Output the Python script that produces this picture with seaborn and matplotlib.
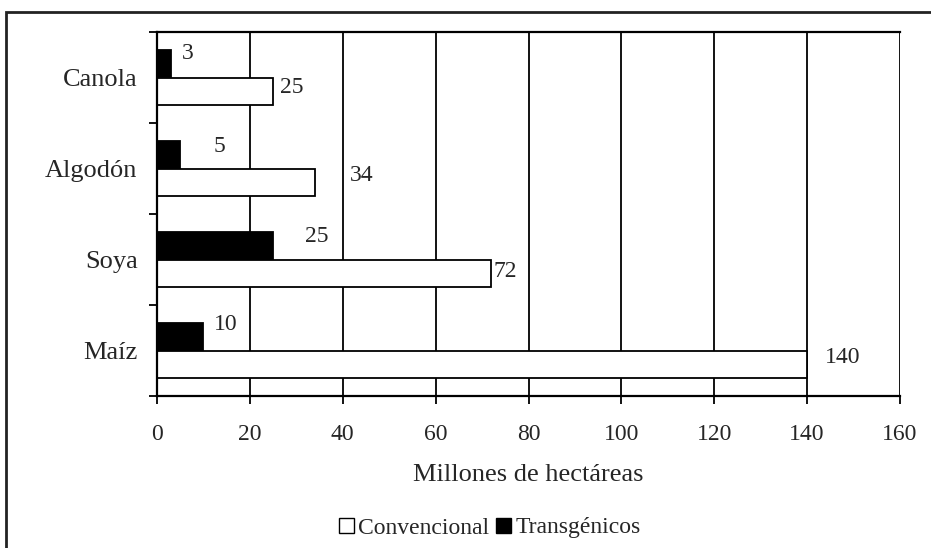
import pandas as pd
import matplotlib
matplotlib.use("Agg")
import matplotlib.pyplot as plt
from matplotlib.patches import Patch, Rectangle
import seaborn as sns

# cultivos (de arriba hacia abajo) y superficie en millones de hectareas
cultivos = ["Canola", "Algodón", "Soya", "Maíz"]
convencional = [25, 34, 72, 140]
transgenicos = [3, 5, 25, 10]
series = ["Transgénicos", "Convencional"]
xticks = [0, 20, 40, 60, 80, 100, 120, 140, 160]

# desplazamiento de las etiquetas (pixeles), como en el original
off_trans = [(11, -10), (33, -8), (32, -9), (10, -12)]
off_conv = [(7, -4), (35, -7), (2, -2), (18, -7)]

df = pd.DataFrame({
    "cultivo": cultivos * 2,
    "serie": ["Transgénicos"] * 4 + ["Convencional"] * 4,
    "valor": transgenicos + convencional,
})

sns.set_style("white")
plt.rcParams["font.family"] = ["Liberation Serif", "DejaVu Serif"]

fig = plt.figure(figsize=(9.31, 5.48), dpi=100)
ax = fig.add_axes([157 / 931, 1 - 396 / 548, 743 / 931, 364 / 548])

sns.barplot(data=df, x="valor", y="cultivo", hue="serie", order=cultivos,
            hue_order=series, palette={"Transgénicos": "black", "Convencional": "white"},
            edgecolor="black", linewidth=1.3, width=0.6, gap=0, ax=ax, legend=False)

ax.set_xlim(0, 160)
ax.set_xticks(xticks)
ax.set_ylim(3.5, -0.5)
ax.grid(axis="x", color="black", linewidth=1.3)
ax.set_axisbelow(True)
for s in ["left", "bottom", "top"]:
    ax.spines[s].set_color("black")
    ax.spines[s].set_linewidth(1.6)
ax.spines["right"].set_visible(False)

ax.set_yticks(range(len(cultivos)))
ax.set_yticklabels(cultivos, fontsize=19)
ax.set_yticks([i - 0.5 for i in range(len(cultivos) + 1)], minor=True)
ax.tick_params(axis="y", which="major", length=0, pad=14)
ax.tick_params(axis="y", which="minor", length=6, width=1.3, color="black", left=True)
ax.tick_params(axis="x", length=6, width=1.3, color="black", bottom=True, labelsize=17, pad=14)
ax.set_ylabel("")
ax.set_xlabel("Millones de hectáreas", fontsize=19, labelpad=14)

# etiquetas de valores
bars_t = ax.containers[0]
bars_c = ax.containers[1]
for bars, vals, offs in [(bars_t, transgenicos, off_trans), (bars_c, convencional, off_conv)]:
    for rect, v, (dx, dy) in zip(bars, vals, offs):
        yc = rect.get_y() + rect.get_height() / 2
        ax.annotate(str(v), (rect.get_width(), yc), xytext=(dx, -dy),
                    textcoords="offset pixels", ha="left", va="center", fontsize=17)

handles = [Patch(facecolor="white", edgecolor="black", linewidth=1),
           Patch(facecolor="black", edgecolor="black")]
fig.legend(handles, ["Convencional", "Transgénicos"], loc="center",
           bbox_to_anchor=(490 / 931, 1 - 528 / 548), ncol=2, frameon=False,
           fontsize=17, handlelength=0.6, handleheight=0.6, handletextpad=0.2,
           columnspacing=0.3)

# marco exterior
fig.add_artist(Rectangle((6 / 931, -0.1), 1.2, (548 - 12) / 548 + 0.1,
                         transform=fig.transFigure, fill=False, linewidth=2,
                         edgecolor="#222222"))

fig.savefig("out.png", dpi=100)
